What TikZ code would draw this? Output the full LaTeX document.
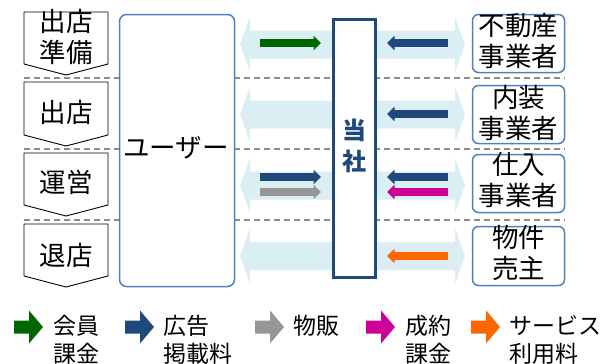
\documentclass[tikz,border=0pt]{standalone}
\usepackage{fontspec}
\setmainfont{Noto Sans CJK JP}
\usetikzlibrary{arrows.meta}
\definecolor{bandc}{HTML}{DAEEF3}
\definecolor{boxblue}{HTML}{4F81BD}
\definecolor{navy}{HTML}{1F497D}
\definecolor{sepgray}{HTML}{8C8C8C}
\definecolor{gcol}{HTML}{006600}
\definecolor{grcol}{HTML}{969696}
\definecolor{mcol}{HTML}{CC0099}
\definecolor{ocol}{HTML}{FF6600}
\newcommand\bandarrow[1]{%
  \fill[bandc] (240,#1) -- (250,#1-27.5) -- (250,#1-14) -- (455,#1-14) -- (455,#1-27.5)
   -- (465,#1) -- (455,#1+27.5) -- (455,#1+14) -- (250,#1+14) -- (250,#1+27.5) -- cycle;}
\newcommand\legarrow[2]{%
  \fill[#2] (#1,320.5) -- (#1+15,320.5) -- (#1+15,310.5) -- (#1+29,327) -- (#1+15,343.5)
   -- (#1+15,333.5) -- (#1,333.5) -- cycle;}
\newcommand\chevshape[3]{%
  \draw[chev] (24,#1) -- (108,#1) -- (108,#2) -- (66,#3) -- (24,#2) -- cycle;}
\begin{document}
\begin{tikzpicture}[x=1pt,y=-1pt,
  sep/.style={draw=sepgray, line width=1.5pt, dash pattern=on 6pt off 4pt},
  chev/.style={draw=black, fill=white, line width=0.9pt},
  rbox/.style={draw=boxblue, line width=1.5pt, rounded corners=6pt, fill=white,
    minimum width=92pt, minimum height=58pt, inner sep=0pt},
  flow/.style={line width=8pt, -{Triangle[length=7.5pt,width=14pt]}},
  lab/.style={font=\fontsize{26.5pt}{30.5pt}\selectfont, align=center, inner sep=0pt},
  leg/.style={font=\fontsize{23pt}{28pt}\selectfont, anchor=west, inner sep=0pt}]
\useasboundingbox (0,0) rectangle (608,364);
% light blue double arrows
\bandarrow{44.5}
\bandarrow{114.5}
\bandarrow{185.5}
\bandarrow{256}
% separators
\draw[sep] (24,78) -- (565,78);
\draw[sep] (24,149) -- (565,149);
\draw[sep] (24,220) -- (565,220);
% user box
\node[draw=boxblue, line width=1.5pt, rounded corners=7pt, fill=white,
  minimum width=115pt, minimum height=272pt, inner sep=0pt] (user) at (177,150.5) {};
\node[lab] (usertxt) at (176,148) {ユーザー};
% company box
\node[draw=navy, line width=3pt, fill=white, minimum width=42pt, minimum height=258pt,
  inner sep=0pt] (co) at (354,148.8) {};
\node[font=\fontsize{24pt}{28pt}\selectfont\bfseries, text=navy, inner sep=0pt] (co1) at (354,130) {当};
\node[font=\fontsize{24pt}{28pt}\selectfont\bfseries, text=navy, inner sep=0pt] (co2) at (354,161) {社};
% chevrons
\chevshape{12}{64}{75}
\chevshape{82}{135}{146}
\chevshape{153}{205}{216}
\chevshape{224}{276}{287}
\node[lab] (s1) at (66,37) {出店\\準備};
\node[lab] (s2) at (66,112) {出店};
\node[lab] (s3) at (66,182) {運営};
\node[lab] (s4) at (66,255) {退店};
% right boxes
\node[rbox] (r1) at (518.5,43.5) {};
\node[rbox] (r2) at (518.5,114.5) {};
\node[rbox] (r3) at (518.5,183.5) {};
\node[rbox, minimum height=59pt] (r4) at (518.5,256) {};
\node[lab] (r1t) at (518.5,41) {不動産\\事業者};
\node[lab] (r2t) at (518.5,113) {内装\\事業者};
\node[lab] (r3t) at (518.5,180) {仕入\\事業者};
\node[lab] (r4t) at (518.5,253) {物件\\売主};
% flow arrows
\coordinate (a1s) at (260,43);  \coordinate (a1e) at (321,43);
\coordinate (b1s) at (448,43);  \coordinate (b1e) at (387,43);
\coordinate (b2s) at (448,114); \coordinate (b2e) at (387,114);
\coordinate (a3s) at (260,177); \coordinate (a3e) at (321,177);
\coordinate (c3s) at (260,192); \coordinate (c3e) at (321,192);
\coordinate (b3s) at (448,177); \coordinate (b3e) at (387,177);
\coordinate (m3s) at (448,192); \coordinate (m3e) at (387,192);
\coordinate (o4s) at (448,256); \coordinate (o4e) at (387,256);
\draw[flow, gcol] (a1s) -- (a1e);
\draw[flow, navy] (b1s) -- (b1e);
\draw[flow, navy] (b2s) -- (b2e);
\draw[flow, navy] (a3s) -- (a3e);
\draw[flow, grcol] (c3s) -- (c3e);
\draw[flow, navy] (b3s) -- (b3e);
\draw[flow, mcol] (m3s) -- (m3e);
\draw[flow, ocol] (o4s) -- (o4e);
% legend
\legarrow{14}{gcol}
\legarrow{125}{navy}
\legarrow{255}{grcol}
\legarrow{366}{mcol}
\legarrow{471}{ocol}
\node[leg] (l1a) at (53,326) {会員};
\node[leg] (l1b) at (53,354) {課金};
\node[leg] (l2a) at (163,326) {広告};
\node[leg] (l2b) at (163,354) {掲載料};
\node[leg] (l3a) at (293,326) {物販};
\node[leg] (l4a) at (405,326) {成約};
\node[leg] (l4b) at (405,354) {課金};
\node[leg] (l5a) at (509,326) {サービス};
\node[leg] (l5b) at (509,354) {利用料};
\end{tikzpicture}
\end{document}
